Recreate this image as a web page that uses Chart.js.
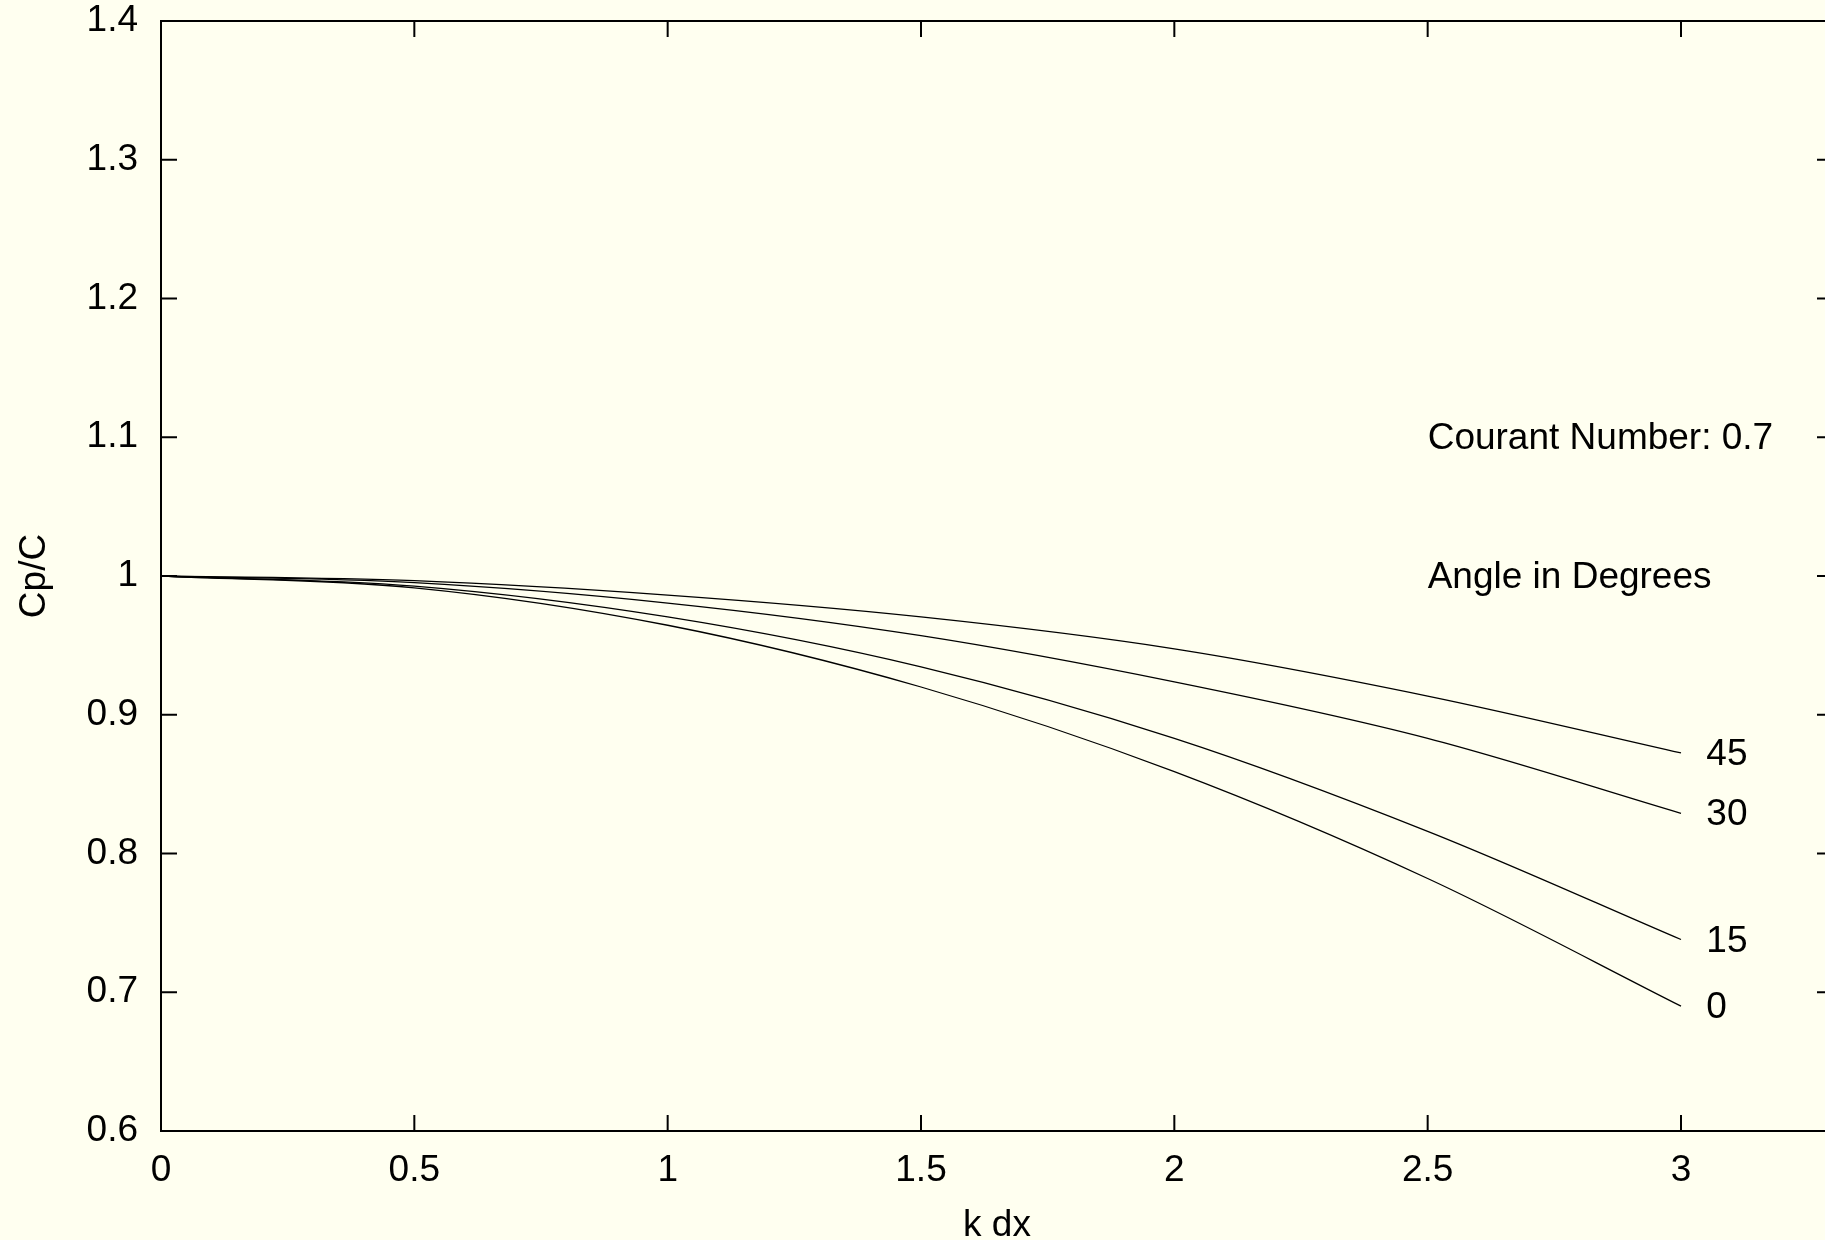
<!DOCTYPE html>
<html>
<head>
<meta charset="utf-8">
<title>Cp/C vs k dx</title>
<script src="https://cdn.jsdelivr.net/npm/chart.js@4.4.1/dist/chart.umd.min.js"></script>
<style>
  html, body { margin: 0; padding: 0; background: #fffff0; overflow: hidden; }
  #wrap { width: 1840px; height: 1240px; }
</style>
</head>
<body>
<div id="wrap"><canvas id="phase" width="1840" height="1240"></canvas></div>
<script>
// k dx samples and phase speed ratio for each propagation angle
const kdx = [0, 0.5, 1, 1.5, 2, 2.5, 3];
const angles = ["0", "15", "30", "45"];
const cpAngle0 = [1, 0.9915, 0.9645, 0.920, 0.859, 0.782, 0.690];
const cpAngle15 = [1, 0.9927, 0.9705, 0.9345, 0.883, 0.816, 0.738];
const cpAngle30 = [1, 0.9952, 0.9805, 0.957, 0.9237, 0.883, 0.829];
const cpAngle45 = [1, 0.9966, 0.9862, 0.9705, 0.9475, 0.9135, 0.8725];
const seriesValues = [cpAngle0, cpAngle15, cpAngle30, cpAngle45];

const notes = [
  { text: "Courant Number: 0.7", x: 2.5, y: 1.1 },
  { text: "Angle in Degrees", x: 2.5, y: 1.0 },
];

const FONT = "'Liberation Sans', Arial, sans-serif";
const FONT_SIZE = 37;

const datasets = seriesValues.map((vals, i) => ({
  label: angles[i],
  data: kdx.map((x, j) => ({ x: x, y: vals[j] })),
  showLine: true,
  borderColor: "#000",
  borderWidth: 1.3,
  pointRadius: 0,
  cubicInterpolationMode: "monotone",
  fill: false,
}));

// frame with inward ticks on all four sides, plus the text labels
const framePlugin = {
  id: "frame",
  afterDraw(chart) {
    const { ctx, chartArea: a, scales } = chart;
    const tl = 16;
    ctx.save();
    ctx.strokeStyle = "#000";
    ctx.lineWidth = 2;
    ctx.strokeRect(a.left, a.top, a.right - a.left, a.bottom - a.top);
    ctx.beginPath();
    scales.x.ticks.forEach((t) => {
      const px = scales.x.getPixelForValue(t.value);
      ctx.moveTo(px, a.bottom); ctx.lineTo(px, a.bottom - tl);
      ctx.moveTo(px, a.top); ctx.lineTo(px, a.top + tl);
    });
    scales.y.ticks.forEach((t) => {
      const py = scales.y.getPixelForValue(t.value);
      ctx.moveTo(a.left, py); ctx.lineTo(a.left + tl, py);
      ctx.moveTo(a.right, py); ctx.lineTo(a.right - tl, py);
    });
    ctx.stroke();

    // text is centred a couple of pixels below the canvas "middle" line
    const dy = 2;
    ctx.fillStyle = "#000";
    ctx.font = FONT_SIZE + "px " + FONT;
    ctx.textAlign = "left";
    ctx.textBaseline = "middle";
    notes.forEach((n) => {
      ctx.fillText(n.text, scales.x.getPixelForValue(n.x), scales.y.getPixelForValue(n.y) + dy);
    });
    // angle label just past the end of each curve
    seriesValues.forEach((vals, i) => {
      const lastX = kdx[kdx.length - 1];
      ctx.fillText(angles[i], scales.x.getPixelForValue(lastX + 0.05), scales.y.getPixelForValue(vals[vals.length - 1]) + dy);
    });
    ctx.restore();
  },
};

const fmt = (v) => String(+Number(v).toFixed(2));

new Chart(document.getElementById("phase"), {
  type: "scatter",
  data: { datasets: datasets },
  options: {
    responsive: false,
    animation: false,
    layout: { padding: { top: 21, right: 7, left: 0, bottom: 0 } },
    plugins: { legend: { display: false }, tooltip: { enabled: false } },
    scales: {
      x: {
        type: "linear",
        min: 0,
        max: 3.3,
        grid: { display: false },
        border: { display: false },
        ticks: {
          stepSize: 0.5,
          includeBounds: false,
          padding: 10,
          color: "#000",
          font: { family: FONT, size: FONT_SIZE },
          maxRotation: 0,
          callback: fmt,
        },
        title: {
          display: true,
          text: "k dx",
          color: "#000",
          font: { family: FONT, size: FONT_SIZE, lineHeight: 1 },
          padding: { top: 0, bottom: -4 },
        },
        afterFit(scale) {
          scale.height = 109;
          scale.paddingLeft = 0;
          scale.paddingRight = 0;
        },
      },
      y: {
        type: "linear",
        min: 0.6,
        max: 1.4,
        grid: { display: false },
        border: { display: false },
        ticks: {
          stepSize: 0.1,
          padding: 15,
          color: "#000",
          font: { family: FONT, size: FONT_SIZE, lineHeight: 1.1 },
          callback: fmt,
        },
        title: {
          display: true,
          text: "Cp/C",
          color: "#000",
          font: { family: FONT, size: FONT_SIZE, lineHeight: 1 },
          padding: { top: 16, bottom: 0 },
        },
        afterFit(scale) {
          scale.width = 161;
          scale.paddingTop = 0;
          scale.paddingBottom = 0;
        },
      },
    },
  },
  plugins: [framePlugin],
});
</script>
</body>
</html>
